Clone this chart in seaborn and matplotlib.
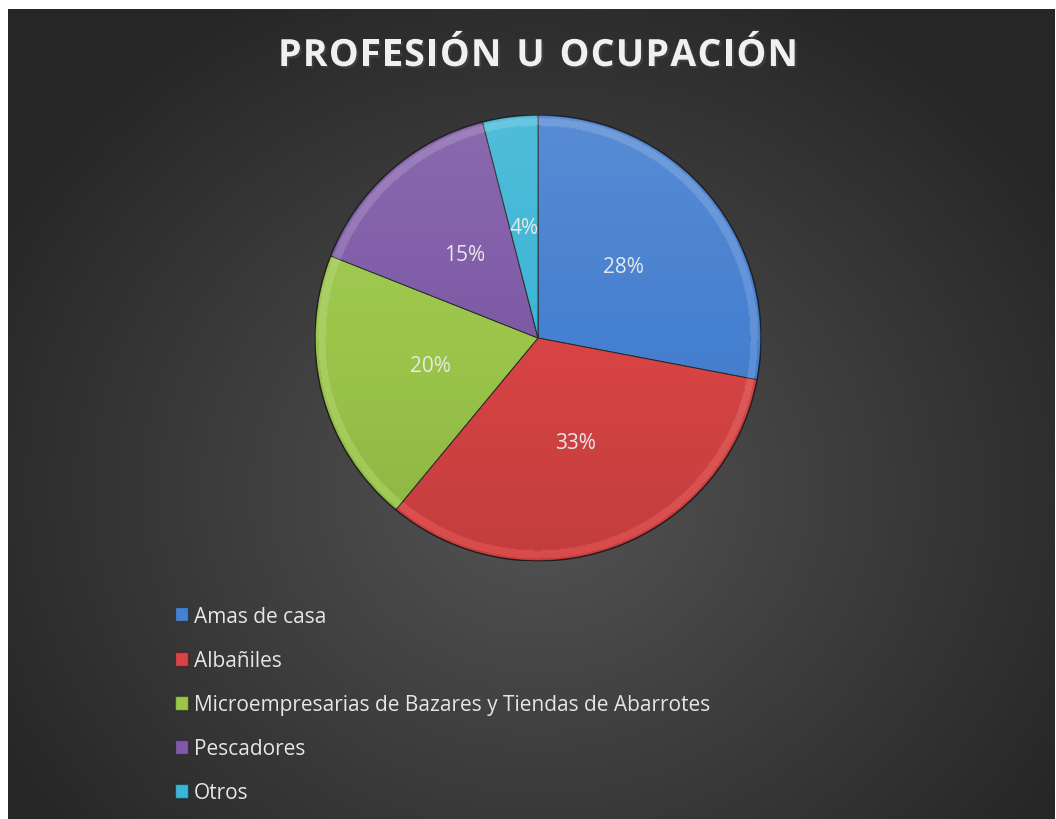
import numpy as np
import matplotlib
matplotlib.use("Agg")
import matplotlib.pyplot as plt
import matplotlib.patheffects as pe
from matplotlib.patches import Patch, Circle
import seaborn as sns

# datos
categorias = ['Amas de casa', 'Albañiles',
              'Microempresarias de Bazares y Tiendas de Abarrotes',
              'Pescadores', 'Otros']
porcentajes = [28, 33, 20, 15, 4]
colores = ['#4680d0', '#d84444', '#9bc64a', '#7e5aa6', '#3db5d6']
titulo = 'PROFESIÓN U OCUPACIÓN'

sns.set_style("dark")
plt.rcParams['font.family'] = ['Open Sans', 'DejaVu Sans']

W, H = 1056, 820
fig = plt.figure(figsize=(W / 100, H / 100), dpi=100)
fig.patch.set_facecolor('white')

# fondo con degradado radial
bg = fig.add_axes([8 / W, 0, (1055 - 8) / W, (H - 10) / H])
yy, xx = np.mgrid[0:810, 0:1047]
d = np.sqrt(((xx - 530) / 620.0) ** 2 + ((yy - 480) / 560.0) ** 2)
d = np.clip(d, 0, 1)
lum = 0.33 - 0.18 * d
bg.imshow(np.dstack([lum, lum, lum]), aspect='auto', interpolation='bilinear')
bg.set_axis_off()

# pastel
cx, cy, r = 538, 339, 223
ax = fig.add_axes([(cx - r) / W, 1 - (cy + r) / H, 2 * r / W, 2 * r / H])
wedges, textos, autotextos = ax.pie(
    porcentajes, colors=colores, startangle=90, counterclock=False,
    autopct='%1.0f%%', pctdistance=0.5, radius=1,
    wedgeprops=dict(edgecolor='#2a2a2a', linewidth=0.7),
    textprops=dict(color='#e8e8e8', fontsize=15))
ax.set_xlim(-1.0, 1.0)
ax.set_ylim(-1.0, 1.0)

# sombreado tipo bisel
gy, gx = np.mgrid[-1:1:400j, -1:1:400j]
rr = np.sqrt(gx ** 2 + gy ** 2)
a = 0.10 * gy + np.where((rr > 0.955) & (rr < 0.99), 0.14, 0.0)
shade = np.zeros((400, 400, 4))
shade[..., :3] = np.where(a[..., None] > 0, 1.0, 0.0)
shade[..., 3] = np.clip(np.abs(a), 0, 0.3)
im = ax.imshow(shade, extent=(-1, 1, -1, 1), origin='lower', zorder=3,
               interpolation='bilinear')
im.set_clip_path(Circle((0, 0), 1, transform=ax.transData))
ax.add_patch(Circle((0, 0), 1, fill=False, edgecolor='#000000', alpha=0.35,
                    linewidth=1.2, zorder=4))
for t in autotextos:
    t.set_zorder(5)

# título con espaciado entre letras
rend = fig.canvas.get_renderer()
fs_t = 27
sp = 1.3  # px extra por letra
anchos = []
for ch in titulo:
    t = fig.text(0, 0, ch if ch != ' ' else 'n', fontsize=fs_t, fontweight='bold')
    w = t.get_window_extent(rend).width
    if ch == ' ':
        w *= 0.5
    anchos.append(w)
    t.remove()
total = sum(anchos) + sp * (len(titulo) - 1)
x = cx - total / 2
for ch, w in zip(titulo, anchos):
    if ch != ' ':
        fig.text(x / W, 1 - 57 / H, ch, ha='left', va='center',
                 fontsize=fs_t, fontweight='bold', color='#f0f0f0',
                 path_effects=[pe.withSimplePatchShadow(offset=(1.5, -1.5),
                                                        alpha=0.6)])
    x += w + sp

# leyenda
handles = [Patch(facecolor=c, edgecolor='#00000055') for c in colores]
leg = fig.legend(handles, categorias, loc='upper left',
                 bbox_to_anchor=(156 / W, 1 - 588 / H), frameon=False,
                 fontsize=15, labelcolor='#e6e6e6', handlelength=0.65,
                 handleheight=0.65, handletextpad=0.25, labelspacing=1.11)

fig.savefig('out.png', dpi=100, facecolor=fig.get_facecolor())
